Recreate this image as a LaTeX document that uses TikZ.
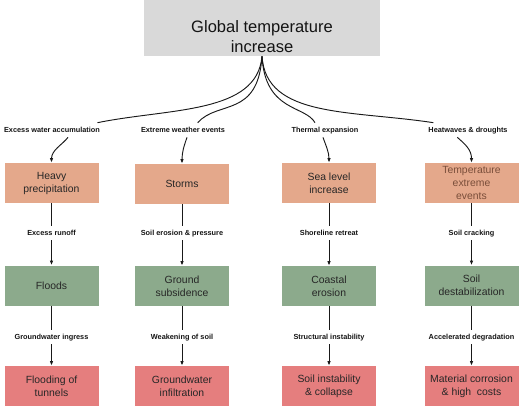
\documentclass[tikz,border=0pt]{standalone}
\usepackage{fontspec}
\setmainfont{Liberation Sans}
\usetikzlibrary{arrows.meta}

\begin{document}
\begin{tikzpicture}[x=0.75pt,y=0.75pt,yscale=-1,xscale=1,
        title/.style={minimum width=177pt,minimum height=29.25pt,inner sep=0pt,align=center,fill={rgb, 255:red, 217; green, 217; blue, 217 },font=\fontsize{12.4}{14.5}\selectfont,text={rgb, 255:red, 20; green, 20; blue, 20 }},
        box/.style={minimum width=70.5pt,minimum height=30pt,inner sep=1pt,align=center,font=\fontsize{7.8}{9.75}\selectfont,text={rgb, 255:red, 38; green, 38; blue, 38 }},
        hazard/.style={box,fill={rgb, 255:red, 228; green, 168; blue, 139 }},
        effect/.style={box,fill={rgb, 255:red, 140; green, 170; blue, 140 }},
        impact/.style={box,fill={rgb, 255:red, 229; green, 126; blue, 126 }},
        cause/.style={font=\fontsize{5.5}{6}\selectfont\bfseries,inner xsep=2pt,inner ysep=2.8pt,text height=4pt,text depth=1pt,text={rgb, 255:red, 20; green, 20; blue, 20 }},
        link/.style={draw={rgb, 255:red, 25; green, 25; blue, 25 },line width=0.7pt},
        arrow/.style={link,-{Latex[length=3.4pt,width=2.6pt]}}
    ]
        \useasboundingbox (0,0) rectangle (520,405);
        % Shape: Rectangle
        \fill [fill={rgb, 255:red, 217; green, 217; blue, 217 }] (144,-4) rectangle (380,20);
        % Text Node
        \draw (262,36.5) node [title] (warming) {Global temperature\\increase};
        % Text Node
        \draw (52,130) node [cause] (accum) {Excess water accumulation};
        % Text Node
        \draw (183,130) node [cause] (weather) {Extreme weather events};
        % Text Node
        \draw (325,130) node [cause] (thermal) {Thermal expansion};
        % Text Node
        \draw (468,130) node [cause] (drought) {Heatwaves \& droughts};
        % Text Node
        \draw (51.5,183) node [hazard] (precip) {Heavy\\precipitation};
        % Text Node
        \draw (182,184) node [hazard] (storms) {Storms};
        % Text Node
        \draw (329,183) node [hazard] (sealevel) {Sea level\\increase};
        % Text Node
        \draw (471.5,183) node [hazard,text={rgb, 255:red, 122; green, 78; blue, 58 }] (heat) {Temperature\\extreme\\events};
        % Text Node
        \draw (51.5,233) node [cause] (runoff) {Excess runoff};
        % Text Node
        \draw (182,233) node [cause] (erosion) {Soil erosion \& pressure};
        % Text Node
        \draw (329,233) node [cause] (retreat) {Shoreline retreat};
        % Text Node
        \draw (471.5,233) node [cause] (cracking) {Soil cracking};
        % Text Node
        \draw (51.5,285.5) node [effect] (floods) {Floods};
        % Text Node
        \draw (182,286) node [effect] (subsid) {Ground\\subsidence};
        % Text Node
        \draw (329,286) node [effect] (coastal) {Coastal\\erosion};
        % Text Node
        \draw (471.5,285.5) node [effect] (destab) {Soil\\destabilization};
        % Text Node
        \draw (51.5,337) node [cause] (ingress) {Groundwater ingress};
        % Text Node
        \draw (182,337) node [cause] (weakening) {Weakening of soil};
        % Text Node
        \draw (329,337) node [cause] (instab) {Structural instability};
        % Text Node
        \draw (471.5,337) node [cause] (degrad) {Accelerated degradation};
        % Text Node
        \draw (51.5,386) node [impact] (tunnels) {Flooding of\\tunnels};
        % Text Node
        \draw (182,386) node [impact] (infiltr) {Groundwater\\infiltration};
        % Text Node
        \draw (329,386) node [impact] (collapse) {Soil instability\\\& collapse};
        % Text Node
        \draw (471.5,386) node [impact] (corrosion) {Material corrosion\\\& high\ \ costs};
        % Connection
        \draw [link] (warming.south) .. controls (257,114) and (170,108) .. ([xshift=-4pt]accum.north east);
        % Connection
        \draw [link] (warming.south) .. controls (258,118) and (218,100) .. ([xshift=11pt]weather.north);
        % Connection
        \draw [link] (warming.south) .. controls (265,112) and (305,105) .. ([xshift=-7.5pt]thermal.north);
        % Connection
        \draw [link] (warming.south) .. controls (266,118) and (350,110) .. ([xshift=-26pt]drought.north);
        % Connection
        \draw [arrow] ([xshift=12pt]accum.south) .. controls (62,145) and (51.5,150) .. (precip.north);
        % Connection
        \draw [arrow] ([xshift=3pt]weather.south) .. controls (184,146) and (182,152) .. (storms.north);
        % Connection
        \draw [arrow] ([xshift=-1.5pt]thermal.south) .. controls (326,146) and (329,152) .. (sealevel.north);
        % Connection
        \draw [arrow] ([xshift=-8pt]drought.south) .. controls (466,145) and (471.5,150) .. (heat.north);
        % Connection
        \draw [link] (precip) -- (runoff);
        % Connection
        \draw [arrow] (runoff) -- (floods);
        % Connection
        \draw [link] (storms) -- (erosion);
        % Connection
        \draw [arrow] (erosion) -- (subsid);
        % Connection
        \draw [link] (sealevel) -- (retreat);
        % Connection
        \draw [arrow] (retreat) -- (coastal);
        % Connection
        \draw [link] (heat) -- (cracking);
        % Connection
        \draw [arrow] (cracking) -- (destab);
        % Connection
        \draw [link] (floods) -- (ingress);
        % Connection
        \draw [arrow] (ingress) -- (tunnels);
        % Connection
        \draw [link] (subsid) -- (weakening);
        % Connection
        \draw [arrow] (weakening) -- (infiltr);
        % Connection
        \draw [link] (coastal) -- (instab);
        % Connection
        \draw [arrow] (instab) -- (collapse);
        % Connection
        \draw [link] (destab) -- (degrad);
        % Connection
        \draw [arrow] (degrad) -- (corrosion);
    \end{tikzpicture}
\end{document}
